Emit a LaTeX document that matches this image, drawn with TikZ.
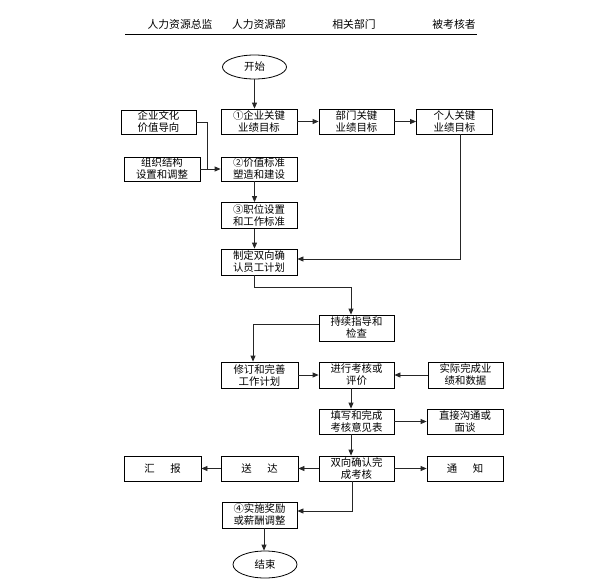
\documentclass[tikz,border=0pt]{standalone}
\usepackage{fontspec}
\newfontfamily\cjk{Noto Sans CJK SC}
\usetikzlibrary{arrows.meta,shapes.geometric}
\tikzset{
  box/.style={draw, line width=0.8pt, minimum width=76pt, minimum height=25pt, inner sep=0pt, align=center, font=\cjk\fontsize{10.4}{12}\selectfont},
  oval/.style={draw, ellipse, line width=0.8pt, minimum width=64pt, minimum height=24pt, inner sep=0pt, font=\cjk\fontsize{10.4}{12}\selectfont},
  head/.style={font=\cjk\fontsize{10.8}{12}\selectfont, inner sep=0pt},
  conn/.style={line width=0.8pt, draw=black!85},
  arr/.style={conn, -{Triangle[length=6pt,width=5pt]}}
}
\begin{document}
\begin{tikzpicture}[x=1pt,y=-1pt]
\useasboundingbox (0,0) rectangle (589,579);
% header
\node[head] (h1) at (180,24) {人力资源总监};
\node[head] (h2) at (259,24) {人力资源部};
\node[head] (h3) at (354,24) {相关部门};
\node[head] (h4) at (454,24) {被考核者};
\coordinate (hl) at (125,34);
\coordinate (hr) at (477,34);
\draw[line width=0.9pt] (hl) -- (hr);
% nodes
\node[oval] (start) at (254.5,67) {开始};
\node[box] (b1) at (259,121.5) {①企业关键\\业绩目标};
\node[box, minimum width=75pt] (dept) at (356.5,121.5) {部门关键\\业绩目标};
\node[box] (person) at (454.5,121.5) {个人关键\\业绩目标};
\node[box, minimum width=75pt, minimum height=24pt] (culture) at (158.5,122) {企业文化\\价值导向};
\node[box, minimum height=24pt] (org) at (162,169) {组织结构\\设置和调整};
\node[box, minimum height=24pt] (b2) at (259,169) {②价值标准\\塑造和建设};
\node[box, minimum height=26pt] (b3) at (259,215.5) {③职位设置\\和工作标准};
\node[box, minimum height=26pt] (plan) at (259,262) {制定双向确\\认员工计划};
\node[box, minimum width=75pt, minimum height=26pt] (guide) at (356.5,328) {持续指导和\\检查};
\node[box, minimum width=77pt, minimum height=26pt] (revise) at (259.5,375) {修订和完善\\工作计划};
\node[box, minimum width=75pt, minimum height=26pt] (eval) at (356.5,375) {进行考核或\\评价};
\node[box, minimum width=75pt, minimum height=26pt] (actual) at (465.5,375) {实际完成业\\绩和数据};
\node[box, minimum width=75pt] (fill) at (356.5,421.5) {填写和完成\\考核意见表};
\node[box, minimum width=76pt] (talk) at (465,421.5) {直接沟通或\\面谈};
\node[box, minimum width=75pt] (confirm) at (356.5,468.5) {双向确认完\\成考核};
\node[box, minimum width=77pt] (send) at (259.5,468.5) {送\hspace{1.5em}达};
\node[box, minimum width=77pt] (report) at (162.5,468.5) {汇\hspace{1.5em}报};
\node[box, minimum width=76pt] (notify) at (465,468.5) {通\hspace{1.5em}知};
\node[box, minimum width=75pt, minimum height=26pt] (reward) at (259.5,515) {④实施奖励\\或薪酬调整};
\node[oval, minimum height=27pt] (end) at (265,564.5) {结束};
% helper coordinates
\coordinate (colA) at (254.5,0);
\coordinate (colB) at (351,0);
\coordinate (cj) at (207,122);
\coordinate (pj) at (460,259);
\coordinate (dj) at (254.5,287);
\coordinate (dk) at (351,287);
\coordinate (gj) at (253,324);
\coordinate (rj) at (352,511);
\coordinate (ej) at (264,0);
% connectors
\draw[arr] (start.south) -- (start.south |- b1.north);
\draw[arr] (b1.east) -- (dept.west);
\draw[arr] (dept.east) -- (person.west);
\draw[conn] (culture.east |- cj) -- (cj) -- (cj |- org.east);
\draw[arr] (org.east) -- (b2.west);
\draw[arr] (colA |- b2.south) -- (colA |- b3.north);
\draw[arr] (colA |- b3.south) -- (colA |- plan.north);
\draw[arr] (person.south -| pj) -- (pj) -- (plan.east |- pj);
\draw[arr] (colA |- plan.south) -- (dj) -- (dk) -- (colB |- guide.north);
\draw[arr] (guide.west |- gj) -- (gj) -- (gj |- revise.north);
\draw[arr] (revise.east) -- (eval.west);
\draw[arr] (actual.west) -- (eval.east);
\draw[arr] (colB |- eval.south) -- (colB |- fill.north);
\draw[arr] (fill.east) -- (talk.west);
\draw[arr] (colB |- fill.south) -- (colB |- confirm.north);
\draw[arr] (confirm.west) -- (send.east);
\draw[arr] (send.west) -- (report.east);
\draw[arr] (confirm.east) -- (notify.west);
\draw[arr] (rj |- confirm.south) -- (rj) -- (reward.east |- rj);
\draw[arr] (ej |- reward.south) -- (ej |- end.north);
\end{tikzpicture}
\end{document}
